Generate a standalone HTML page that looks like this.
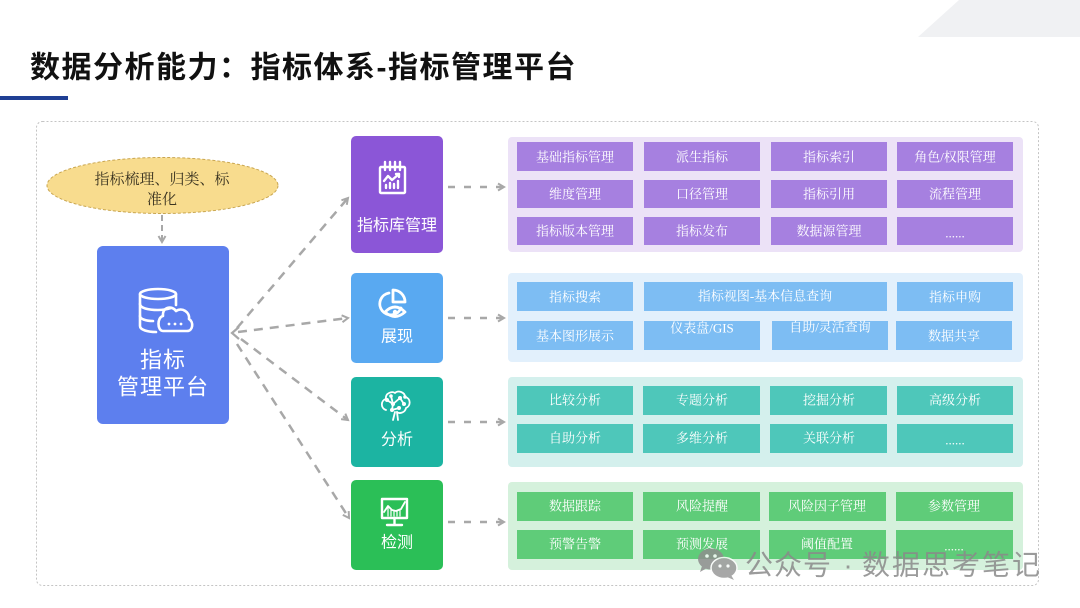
<!DOCTYPE html>
<html>
<head>
<meta charset="utf-8">
<style>
  html,body{margin:0;padding:0;background:#fff;}
  svg{display:block;}
  .title{font-family:"Liberation Sans","Noto Sans CJK SC",sans-serif;font-weight:bold;font-size:30px;fill:#111;letter-spacing:1.5px;}
  .cell{font-family:"Liberation Serif","Noto Serif CJK SC",serif;font-size:13px;fill:#fff;font-weight:normal;}
  .mod{font-family:"Liberation Sans","Noto Sans CJK SC",sans-serif;font-size:16px;fill:#fff;}
  .main{font-family:"Liberation Sans","Noto Sans CJK SC",sans-serif;font-size:22px;fill:#fff;letter-spacing:1px;}
  .ell{font-family:"Liberation Serif","Noto Serif CJK SC",serif;font-size:15px;fill:#3a3320;font-weight:normal;}
  .wm{font-family:"Liberation Sans","Noto Sans CJK SC",sans-serif;font-size:28px;fill:#8a8a8a;opacity:0.85;}
</style>
</head>
<body>
<svg width="1080" height="608" viewBox="0 0 1080 608" xmlns="http://www.w3.org/2000/svg">
  <defs>
    <marker id="ah" markerWidth="10" markerHeight="10" refX="7" refY="5" orient="auto" markerUnits="userSpaceOnUse">
      <path d="M1,1.5 L7,5 L1,8.5" fill="none" stroke="#a8a8a8" stroke-width="2"/>
    </marker>
  </defs>

  <!-- top-right decoration -->
  <polygon points="959,0 1080,0 1080,37 918,37" fill="#f0f1f3"/>

  <!-- title -->
  <text class="title" x="30" y="68" dominant-baseline="central">数据分析能力：指标体系-指标管理平台</text>
  <rect x="0" y="96" width="68" height="4" fill="#1f3f94"/>

  <!-- outer dashed container -->
  <rect x="36.5" y="121.5" width="1002" height="464" rx="6" fill="none" stroke="#c4c4c4" stroke-width="1" stroke-dasharray="2 2"/>

  <!-- ellipse -->
  <ellipse cx="162.5" cy="185.5" rx="115.5" ry="28" fill="#f8dc8e" stroke="#c9a650" stroke-width="1" stroke-dasharray="3 2"/>
  <text class="ell" x="162" y="180" text-anchor="middle" dominant-baseline="central">指标梳理、归类、标</text>
  <text class="ell" x="162" y="200" text-anchor="middle" dominant-baseline="central">准化</text>

  <!-- ellipse -> main -->
  <line x1="162" y1="215" x2="162" y2="242" stroke="#a8a8a8" stroke-width="2" stroke-dasharray="6 4" marker-end="url(#ah)"/>

  <!-- main box -->
  <rect x="97" y="246" width="132" height="178" rx="6" fill="#5d7fee"/>
  <g fill="none" stroke="#fff" stroke-width="2.6" stroke-linecap="round" stroke-linejoin="round">
    <ellipse cx="158" cy="294" rx="18" ry="5"/>
    <path d="M140,294 V326 C140,330 148,332 156,332"/>
    <path d="M176,294 V305"/>
    <path d="M140,304 C140,308 148,310 158,310 C163,310 168,309 171,308"/>
    <path d="M140,316 C140,319 146,321 153,321"/>
    <path d="M163,331 H187 C193,331 194,322 189,319 C190,312 182,307 176,311 C172,305 162,307 163,316 C157,317 157,331 163,331 Z"/>
  </g>
  <g fill="#fff">
    <circle cx="169" cy="324" r="1.4"/><circle cx="175" cy="324" r="1.4"/><circle cx="181" cy="324" r="1.4"/>
  </g>
  <text class="main" x="163" y="360" text-anchor="middle" dominant-baseline="central">指标</text>
  <text class="main" x="163" y="387" text-anchor="middle" dominant-baseline="central">管理平台</text>

  <!-- main chevron -->
  <path d="M239,327 L232,333 L239,339" fill="none" stroke="#a8a8a8" stroke-width="2.2"/>

  <!-- diagonal connectors -->
  <g stroke="#a8a8a8" stroke-width="2.5" stroke-dasharray="9 7" fill="none">
    <line x1="237" y1="328" x2="348" y2="198" marker-end="url(#ah)"/>
    <line x1="238" y1="332" x2="348" y2="318" marker-end="url(#ah)"/>
    <line x1="241" y1="339" x2="348" y2="420" marker-end="url(#ah)"/>
    <line x1="237" y1="344" x2="349" y2="518" marker-end="url(#ah)"/>
  </g>

  <!-- modules -->
  <rect x="351" y="136" width="92" height="117" rx="5" fill="#8b56d7"/>
  <rect x="351" y="273" width="92" height="90" rx="5" fill="#59a9f1"/>
  <rect x="351" y="377" width="92" height="90" rx="5" fill="#1cb4a2"/>
  <rect x="351" y="480" width="92" height="90" rx="5" fill="#2bbf57"/>

  <!-- purple icon -->
  <g fill="none" stroke="#fff" stroke-width="2.4" stroke-linecap="round" stroke-linejoin="round">
    <rect x="380" y="167" width="25" height="26" rx="1"/>
    <line x1="385" y1="162" x2="385" y2="170"/>
    <line x1="390" y1="162" x2="390" y2="170"/>
    <line x1="395" y1="162" x2="395" y2="170"/>
    <line x1="400" y1="162" x2="400" y2="170"/>
    <polyline points="384,181 388,176 392,180 399,174"/>
    <polyline points="396,174 399,174 399,177"/>
    <line x1="386" y1="188" x2="386" y2="185"/>
    <line x1="390" y1="188" x2="390" y2="183"/>
    <line x1="394" y1="188" x2="394" y2="184"/>
    <line x1="398" y1="188" x2="398" y2="181"/>
  </g>
  <text class="mod" x="397" y="226" text-anchor="middle" dominant-baseline="central">指标库管理</text>

  <!-- blue icon -->
  <g fill="none" stroke="#fff" stroke-width="2.8" stroke-linecap="round" stroke-linejoin="round">
    <path d="M389,293 A11,11 0 1 0 401,308"/>
    <path d="M393,290 V302 H405 A12,12 0 0 0 393,290 Z"/>
    <path d="M385,312 Q395,302 405,312 Q395,321 385,312 Z"/>
  </g>
  <circle cx="395" cy="312" r="2.2" fill="#fff"/>
  <text class="mod" x="397" y="337" text-anchor="middle" dominant-baseline="central">展现</text>

  <!-- teal icon -->
  <g fill="none" stroke="#fff" stroke-width="1.8" stroke-linecap="round" stroke-linejoin="round">
    <path d="M386,410 C380,408 381,400 386,399 C385,393 392,391 395,393 C398,390 405,392 405,397 C411,398 411,406 406,408 C405,413 399,414 397,412"/>
    <path d="M395,412 L393,420 M397,412 L398,420"/>
    <path d="M387,400 L393,404 L400,398 L404,404 M393,404 L392,410 L399,408"/>
    <path d="M391,396 L393,404"/>
  </g>
  <g fill="#fff">
    <circle cx="387" cy="400" r="2"/><circle cx="393" cy="404" r="2"/><circle cx="400" cy="398" r="2"/>
    <circle cx="404" cy="404" r="2"/><circle cx="392" cy="410" r="2"/><circle cx="399" cy="408" r="2"/>
    <circle cx="391" cy="396" r="1.8"/><circle cx="405" cy="397" r="1.8"/>
  </g>
  <text class="mod" x="397" y="440" text-anchor="middle" dominant-baseline="central">分析</text>

  <!-- green icon -->
  <g fill="none" stroke="#fff" stroke-width="2.4" stroke-linecap="round" stroke-linejoin="round">
    <rect x="382" y="499" width="25" height="19"/>
    <line x1="394.5" y1="518" x2="394.5" y2="524"/>
    <line x1="387" y1="525" x2="402" y2="525"/>
    <polyline points="384,512 388,506 392,510 396,511 401,509 405,502" stroke-width="1.8"/>
    <line x1="388" y1="508" x2="388" y2="516" stroke-width="1.2"/>
    <line x1="391" y1="510" x2="391" y2="516" stroke-width="1.2"/>
    <line x1="394" y1="511" x2="394" y2="516" stroke-width="1.2"/>
    <line x1="397" y1="511" x2="397" y2="516" stroke-width="1.2"/>
    <line x1="400" y1="510" x2="400" y2="516" stroke-width="1.2"/>
  </g>
  <text class="mod" x="397" y="543" text-anchor="middle" dominant-baseline="central">检测</text>

  <!-- horizontal connectors -->
  <g stroke="#a8a8a8" stroke-width="2.5" stroke-dasharray="7 9" fill="none">
    <line x1="448" y1="187" x2="504" y2="187" marker-end="url(#ah)"/>
    <line x1="448" y1="318" x2="504" y2="318" marker-end="url(#ah)"/>
    <line x1="448" y1="422" x2="504" y2="422" marker-end="url(#ah)"/>
    <line x1="448" y1="522" x2="504" y2="522" marker-end="url(#ah)"/>
  </g>

  <!-- purple panel -->
  <rect x="508" y="137" width="515" height="115" rx="4" fill="#ece2f7"/>
  <g fill="#a680e0">
    <rect x="517" y="142" width="116" height="29"/><rect x="644" y="142" width="116" height="29"/><rect x="771" y="142" width="116" height="29"/><rect x="897" y="142" width="116" height="29"/>
    <rect x="517" y="180" width="116" height="28"/><rect x="644" y="180" width="116" height="28"/><rect x="771" y="180" width="116" height="28"/><rect x="897" y="180" width="116" height="28"/>
    <rect x="517" y="217" width="116" height="28"/><rect x="644" y="217" width="116" height="28"/><rect x="771" y="217" width="116" height="28"/><rect x="897" y="217" width="116" height="28"/>
  </g>
  <g class="cell" text-anchor="middle">
    <text x="575" y="157" dominant-baseline="central">基础指标管理</text>
    <text x="702" y="157" dominant-baseline="central">派生指标</text>
    <text x="829" y="157" dominant-baseline="central">指标索引</text>
    <text x="955" y="157" dominant-baseline="central">角色/权限管理</text>
    <text x="575" y="194" dominant-baseline="central">维度管理</text>
    <text x="702" y="194" dominant-baseline="central">口径管理</text>
    <text x="829" y="194" dominant-baseline="central">指标引用</text>
    <text x="955" y="194" dominant-baseline="central">流程管理</text>
    <text x="575" y="231" dominant-baseline="central">指标版本管理</text>
    <text x="702" y="231" dominant-baseline="central">指标发布</text>
    <text x="829" y="231" dominant-baseline="central">数据源管理</text>
    <text x="955" y="233" dominant-baseline="central">......</text>
  </g>

  <!-- blue panel -->
  <rect x="508" y="273" width="515" height="89" rx="4" fill="#e2f0fc"/>
  <g fill="#7dbdf3">
    <rect x="517" y="282" width="116" height="29"/><rect x="644" y="282" width="243" height="29"/><rect x="897" y="282" width="116" height="29"/>
    <rect x="517" y="321" width="116" height="29"/><rect x="644" y="321" width="116" height="29"/><rect x="772" y="321" width="116" height="29"/><rect x="896" y="321" width="116" height="29"/>
  </g>
  <g class="cell" text-anchor="middle">
    <text x="575" y="297" dominant-baseline="central">指标搜索</text>
    <text x="765" y="296" dominant-baseline="central">指标视图-基本信息查询</text>
    <text x="955" y="297" dominant-baseline="central">指标申购</text>
    <text x="575" y="336" dominant-baseline="central">基本图形展示</text>
    <text x="702" y="328" dominant-baseline="central">仪表盘/GIS</text>
    <text x="830" y="327" dominant-baseline="central">自助/灵活查询</text>
    <text x="954" y="336" dominant-baseline="central">数据共享</text>
  </g>

  <!-- teal panel -->
  <rect x="508" y="377" width="515" height="90" rx="4" fill="#d4f0ed"/>
  <g fill="#4ec7ba">
    <rect x="517" y="386" width="116" height="29"/><rect x="643" y="386" width="117" height="29"/><rect x="770" y="386" width="117" height="29"/><rect x="897" y="386" width="116" height="29"/>
    <rect x="517" y="424" width="116" height="29"/><rect x="643" y="424" width="117" height="29"/><rect x="770" y="424" width="117" height="29"/><rect x="897" y="424" width="116" height="29"/>
  </g>
  <g class="cell" text-anchor="middle">
    <text x="575" y="400" dominant-baseline="central">比较分析</text>
    <text x="702" y="400" dominant-baseline="central">专题分析</text>
    <text x="829" y="400" dominant-baseline="central">挖掘分析</text>
    <text x="955" y="400" dominant-baseline="central">高级分析</text>
    <text x="575" y="438" dominant-baseline="central">自助分析</text>
    <text x="702" y="438" dominant-baseline="central">多维分析</text>
    <text x="829" y="438" dominant-baseline="central">关联分析</text>
    <text x="955" y="440" dominant-baseline="central">......</text>
  </g>

  <!-- green panel -->
  <rect x="508" y="482" width="515" height="88" rx="4" fill="#d5f1dc"/>
  <g fill="#5fcc79">
    <rect x="517" y="492" width="116" height="29"/><rect x="643" y="492" width="117" height="29"/><rect x="769" y="492" width="117" height="29"/><rect x="896" y="492" width="117" height="29"/>
    <rect x="517" y="530" width="116" height="29"/><rect x="643" y="530" width="117" height="29"/><rect x="769" y="530" width="117" height="29"/><rect x="896" y="530" width="117" height="29"/>
  </g>
  <g class="cell" text-anchor="middle">
    <text x="575" y="506" dominant-baseline="central">数据跟踪</text>
    <text x="702" y="506" dominant-baseline="central">风险提醒</text>
    <text x="827" y="506" dominant-baseline="central">风险因子管理</text>
    <text x="954" y="506" dominant-baseline="central">参数管理</text>
    <text x="575" y="544" dominant-baseline="central">预警告警</text>
    <text x="702" y="544" dominant-baseline="central">预测发展</text>
    <text x="827" y="544" dominant-baseline="central">阈值配置</text>
    <text x="954" y="546" dominant-baseline="central">......</text>
  </g>

  <!-- watermark -->
  <g opacity="0.85">
    <ellipse cx="711" cy="559" rx="13" ry="10.5" fill="#8e8e8e"/>
    <path d="M702,566 L700,572 L707,568 Z" fill="#8e8e8e"/>
    <ellipse cx="724" cy="568" rx="13" ry="10.5" fill="#9a9a9a" stroke="#fff" stroke-width="1.5"/>
    <path d="M731,575 L734,580 L727,577 Z" fill="#9a9a9a"/>
    <circle cx="707" cy="556" r="1.8" fill="#fff"/><circle cx="715" cy="556" r="1.8" fill="#fff"/>
    <circle cx="720" cy="566" r="1.6" fill="#fff"/><circle cx="728" cy="566" r="1.6" fill="#fff"/>
  </g>
  <text class="wm" x="745" y="565" dominant-baseline="central" letter-spacing="1">公众号</text>
  <text class="wm" x="848" y="565" dominant-baseline="central" text-anchor="middle">·</text>
  <text class="wm" x="862" y="565" dominant-baseline="central" letter-spacing="2">数据思考笔记</text>
</svg>
</body>
</html>
